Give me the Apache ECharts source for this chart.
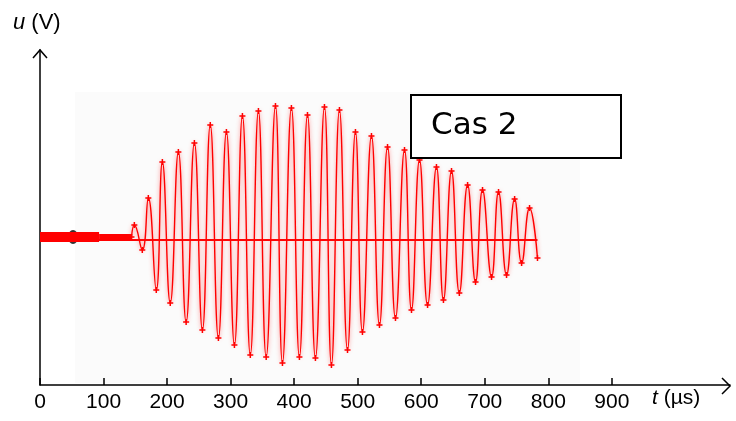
<!DOCTYPE html>
<html>
<head>
<meta charset="utf-8">
<script src="https://cdn.jsdelivr.net/npm/echarts@6/dist/echarts.min.js"></script>
<style>
  html, body { margin: 0; padding: 0; background: #fff; }
  #chart { width: 736px; height: 421px; }
</style>
</head>
<body>
<div id="chart"></div>
<script>
  // temps en µs, tension en unités arbitraires
  const xTicks = [0, 100, 200, 300, 400, 500, 600, 700, 800, 900];
  const thickBand = [0, 93];      // bande épaisse du début (signal plat)
  const thinBand = [93, 145];
  const markerTime = 52;          // point noir
  const baseline = -0.03;         // trait horizontal continu
  const baselineEnd = 783;

  // extrema successifs du signal (pic / creux)
  const extTimes = [144, 148.5, 161, 170.5, 183, 192.6, 205, 217.8, 230, 243, 255.6, 268, 280.8, 293.4, 306,
    318.6, 331, 343.8, 356, 370.6, 381.6, 395.7, 408.3, 421, 433.5, 447.7, 458.7, 471.3, 484,
    496.5, 507.5, 521.7, 534.3, 547, 559.5, 573.7, 584.7, 597.3, 610, 624, 635, 647.7, 660,
    673, 685.5, 696.5, 710.7, 721.7, 734.3, 747, 758, 770.5, 783];
  const extValues = [0, 0.12, -0.13, 0.39, -0.53, 0.75, -0.66, 0.85, -0.85, 0.94, -0.93, 1.12, -1.01, 1.05, -1.08,
    1.21, -1.18, 1.26, -1.20, 1.31, -1.26, 1.29, -1.20, 1.22, -1.21, 1.30, -1.28, 1.27, -1.13,
    1.05, -0.95, 1.01, -0.88, 0.90, -0.81, 0.87, -0.73, 0.77, -0.68, 0.70, -0.63, 0.66, -0.56,
    0.52, -0.45, 0.47, -0.40, 0.45, -0.38, 0.38, -0.26, 0.29, -0.21];

  const signal = extTimes.map((t, i) => [t, extValues[i]]);
  const plus = 'path://M3,0H5V3H8V5H5V8H3V5H0V3H3Z';

  let chart = echarts.init(document.getElementById('chart'));
  chart.setOption({
    animation: false,
    grid: { left: 40, right: 6, top: 50, bottom: 36 },
    xAxis: {
      type: 'value',
      min: 0,
      max: 1086,
      interval: 100,
      axisLine: { onZero: false, lineStyle: { color: '#000', width: 1.5 } },
      axisTick: { inside: true, length: 7, customValues: xTicks, lineStyle: { color: '#000', width: 1.5 } },
      axisLabel: {
        margin: 7,
        color: '#000',
        fontSize: 21,
        fontFamily: 'Liberation Sans',
        customValues: xTicks
      },
      splitLine: { show: false }
    },
    yAxis: {
      type: 'value',
      min: -1.48,
      max: 1.87,
      axisLine: { show: true, lineStyle: { color: '#000', width: 1.5 } },
      axisTick: { show: false },
      axisLabel: { show: false },
      splitLine: { show: false }
    },
    graphic: [
      { type: 'rect', z: -1, shape: { x: 75, y: 92, width: 505, height: 291 }, style: { fill: '#fbfbfb' } },
      // flèches des axes
      { type: 'polyline', z: 10, shape: { points: [[722, 378], [730, 386], [722, 394]] }, style: { stroke: '#000', lineWidth: 1.5, fill: null } },
      { type: 'polyline', z: 10, shape: { points: [[33, 58], [40, 50], [47, 58]] }, style: { stroke: '#000', lineWidth: 1.5, fill: null } },
      {
        type: 'text', left: 13, top: 12,
        style: {
          text: '{i|u} (V)', fill: '#000', font: '22px "Liberation Sans"',
          rich: { i: { fontStyle: 'italic', fontSize: 22, fontFamily: 'Liberation Sans' } }
        }
      },
      {
        type: 'text', left: 652, top: 388,
        style: {
          text: '{i|t} (µs)', fill: '#000', font: '21px "Liberation Sans"',
          rich: { i: { fontStyle: 'italic', fontSize: 21, fontFamily: 'Liberation Sans' } }
        }
      },
      { type: 'rect', z: 10, shape: { x: 411, y: 95, width: 210, height: 63 }, style: { fill: '#fff', stroke: '#000', lineWidth: 2 } },
      { type: 'text', z: 11, left: 431, top: 110, style: { text: 'Cas 2', fill: '#000', font: '31px "DejaVu Sans"' } }
    ],
    series: [
      {
        type: 'scatter', z: 2,
        symbol: 'circle', symbolSize: [10, 14],
        itemStyle: { color: '#000' },
        data: [[markerTime, 0]]
      },
      {
        type: 'line', z: 3, symbol: 'none',
        lineStyle: { color: '#ff0000', width: 10 },
        data: thickBand.map(t => [t, 0])
      },
      {
        type: 'line', z: 3, symbol: 'none',
        lineStyle: { color: '#ff0000', width: 6 },
        data: thinBand.map(t => [t, 0])
      },
      {
        type: 'line', z: 4, symbol: 'none',
        lineStyle: { color: '#ff0000', width: 2 },
        data: [[0, baseline], [baselineEnd, baseline]]
      },
      {
        type: 'line', z: 5,
        smooth: 0.5,
        symbol: plus, symbolSize: 6,
        itemStyle: { color: '#ff0000' },
        lineStyle: { color: '#ff0000', width: 1.4, shadowColor: 'rgba(255,60,60,0.7)', shadowBlur: 4 },
        data: signal
      }
    ]
  });
</script>
</body>
</html>
